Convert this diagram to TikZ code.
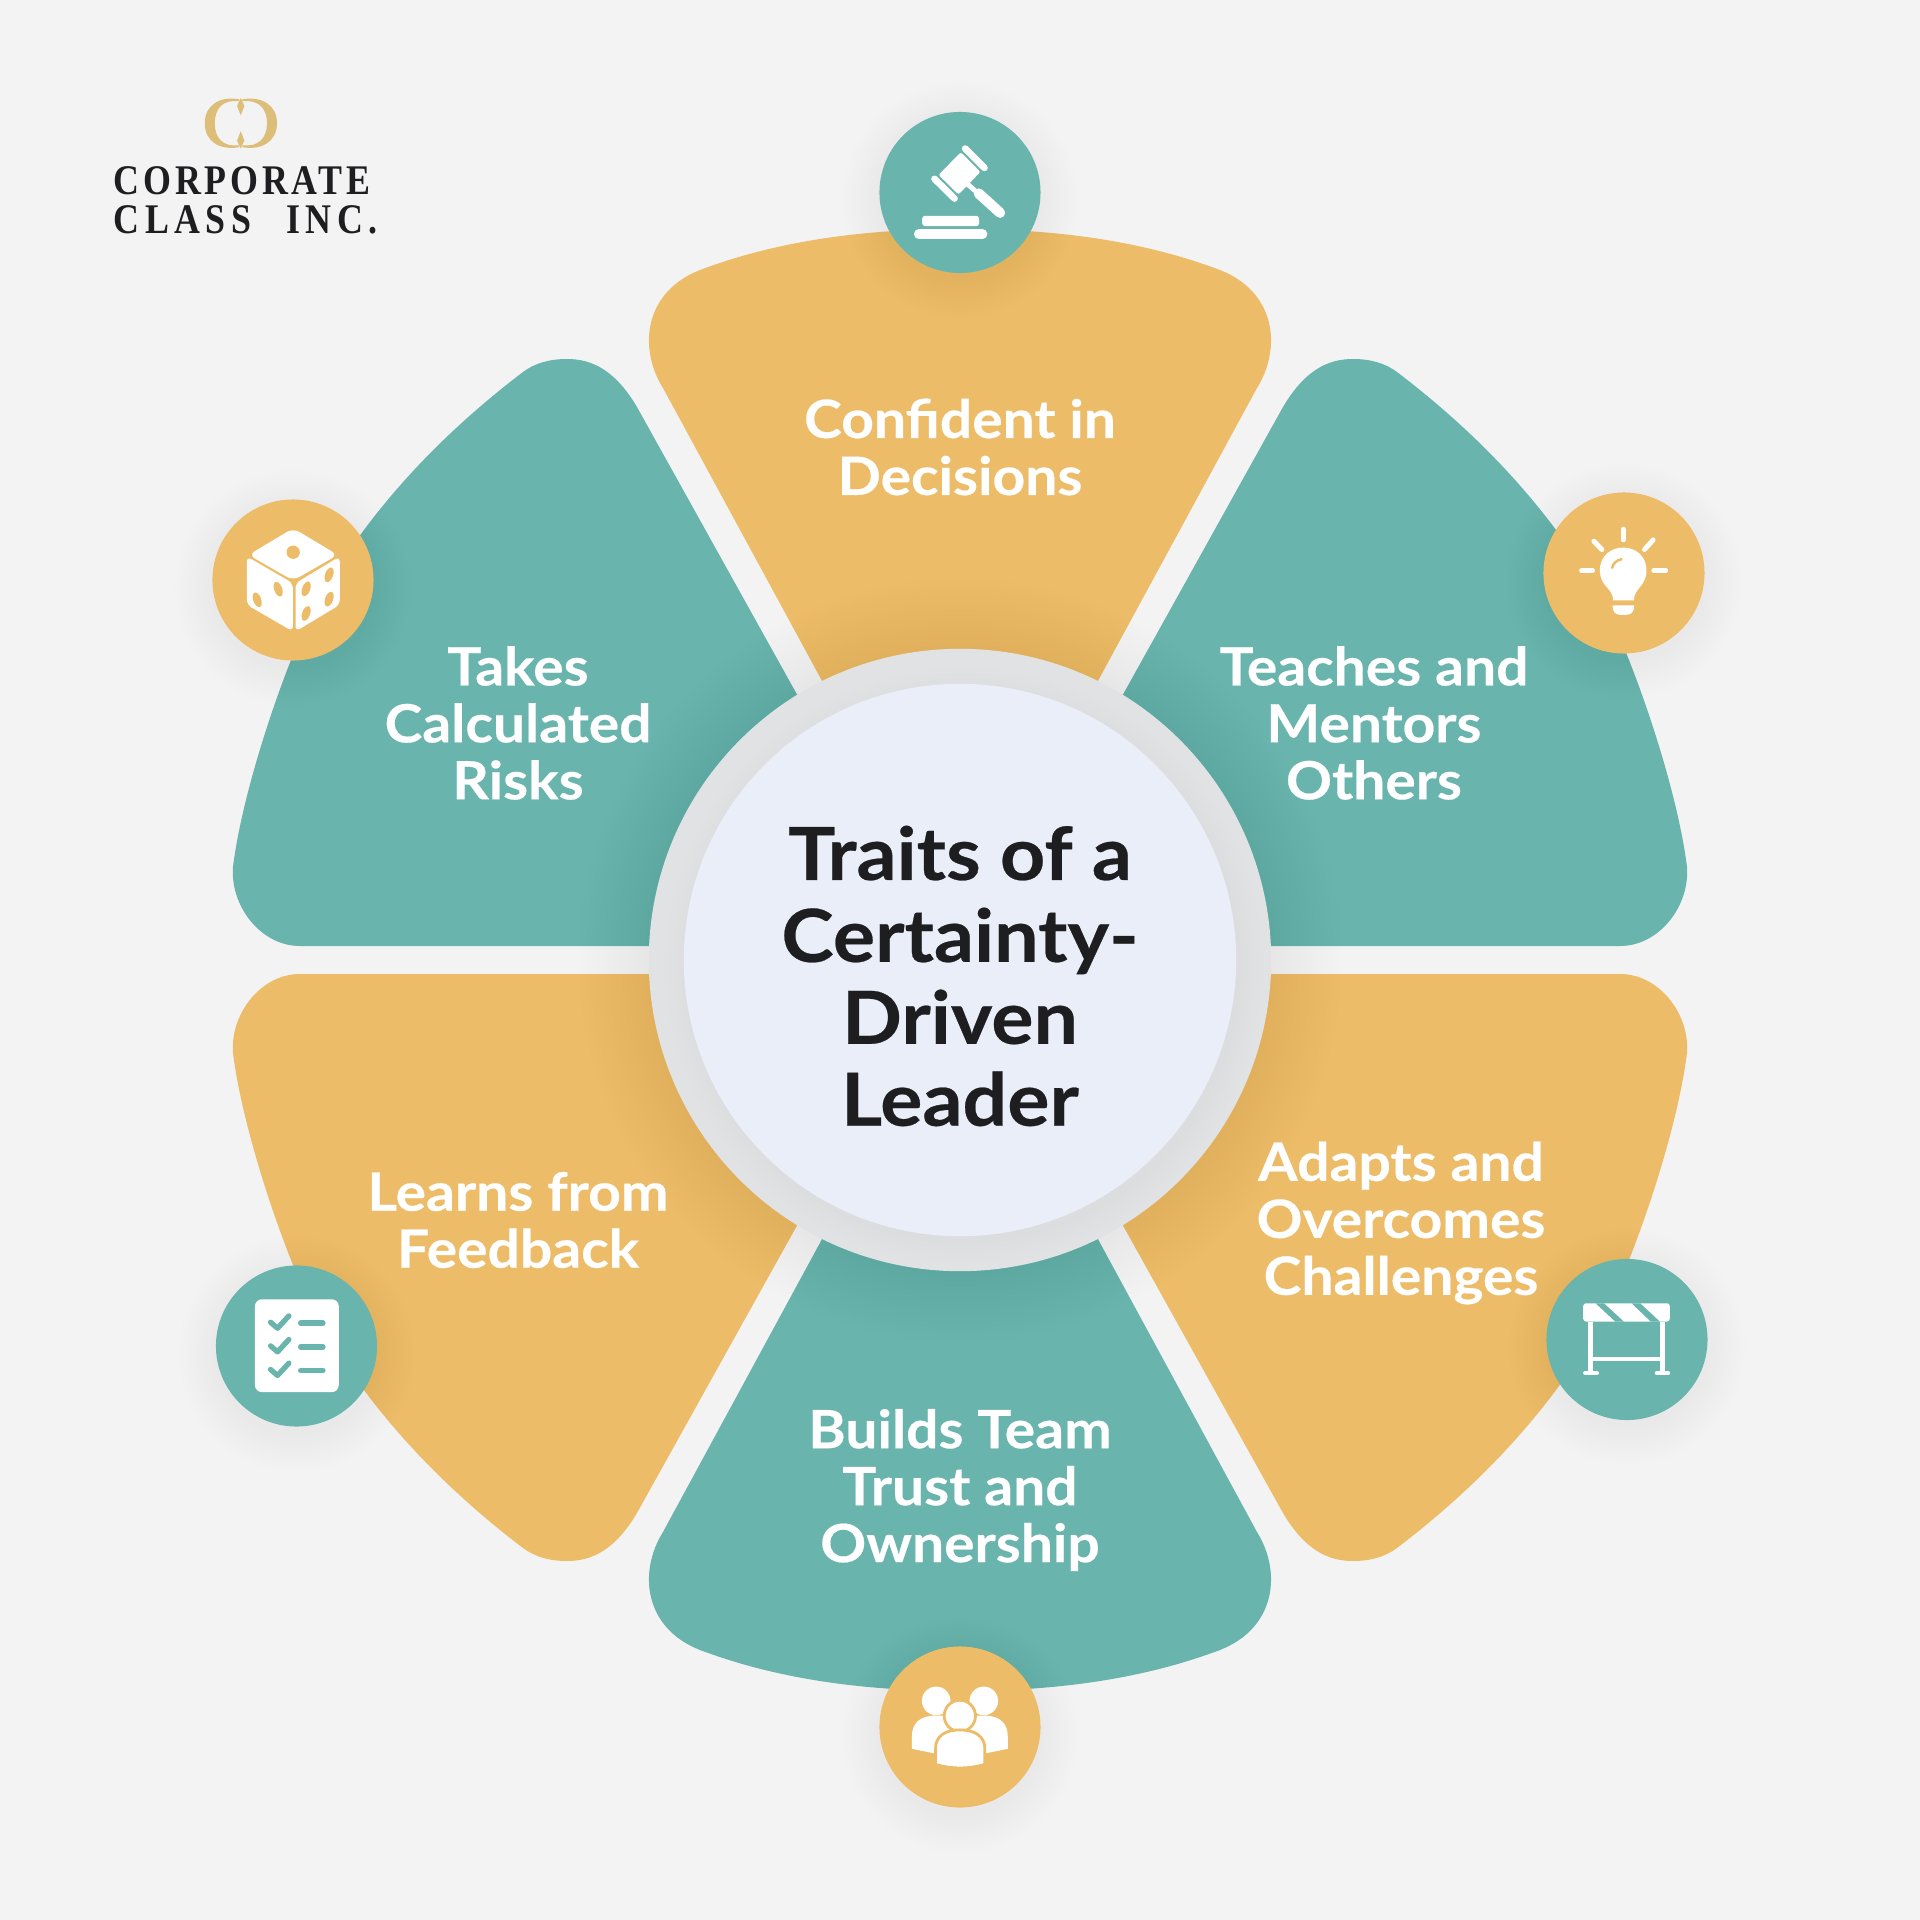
\documentclass[tikz,border=0pt]{standalone}
\usepackage{fontspec}
\setsansfont{Lato}[BoldFeatures={FakeBold=0.35,FakeStretch=1.08}]
\newfontfamily\logofont{Liberation Serif}[LetterSpace=9,BoldFeatures={FakeStretch=0.85}]
\newfontfamily\logowidefont{Liberation Serif}[LetterSpace=13,BoldFeatures={FakeStretch=0.85}]
\usetikzlibrary{positioning,shapes.geometric}
\definecolor{bgcol}{HTML}{F3F3F3}
\definecolor{tealcol}{HTML}{69B4AC}
\definecolor{yelcol}{HTML}{EDBC69}
\definecolor{goldcol}{HTML}{DCBE78}
\definecolor{ringcol}{HTML}{E1E2E4}
\definecolor{hubcol}{HTML}{EAEEF8}
\definecolor{inkcol}{HTML}{1E1E21}
\newcommand{\softshadow}[2]{\foreach \r in {82,86,...,118}{\fill[black,opacity=.005] (#1,#2) circle (\r);}}
\newcommand{\toppetal}{(0,25) -- (-297,572) .. controls (-322,612) and (-316,668) .. (-260,690) .. controls (-175,722) and (-85,731) .. (0,731) .. controls (85,731) and (175,722) .. (260,690) .. controls (316,668) and (322,612) .. (297,572) -- cycle}
\newcommand{\sidepetal}{(23,14) -- (323,553) .. controls (345,590) and (368,601) .. (393,601) .. controls (410,601) and (425,597) .. (437,588) .. controls (500,540) and (550,490) .. (590,438) .. controls (625,392) and (650,350) .. (667,305) .. controls (695,235) and (720,150) .. (727,93) .. controls (730,55) and (700,14) .. (660,14) -- cycle}
\tikzset{
  iconbg/.style={circle,minimum size=1.61cm,inner sep=0pt},
  traitlabel/.style={text=white,font=\sffamily\bfseries\fontsize{15}{16.2}\selectfont,inner sep=0pt},
  hublabel/.style={text=inkcol,font=\sffamily\bfseries\fontsize{20.8}{23.3}\selectfont,inner sep=0pt},
  logolabel/.style={text=inkcol,font=\logofont\bfseries\fontsize{12}{12}\selectfont,inner sep=0pt,anchor=base west},
  logowide/.style={logolabel,font=\logowidefont\bfseries\fontsize{12}{12}\selectfont},
  zoomed/.style 2 args={shift={(#1,#2)},x=.003333cm,y=-.003333cm},
  ico/.style={white,line cap=round}
}
\begin{document}
\begin{tikzpicture}[x=.01cm,y=.01cm,every text node part/.style={align=center}]
    \fill[bgcol] (-960,-960) rectangle (960,960);
    \useasboundingbox (-960,-960) rectangle (960,960);

    % petals
    \fill[yelcol] \toppetal;
    \fill[tealcol,yscale=-1] \toppetal;
    \fill[tealcol] \sidepetal;
    \fill[tealcol,xscale=-1] \sidepetal;
    \fill[yelcol,yscale=-1] \sidepetal;
    \fill[yelcol,scale=-1] \sidepetal;

    % shadow and hub
    \foreach \r in {315,321,...,385}{\fill[black,opacity=.005] (0,0) circle (\r);}
    \node[circle,fill=ringcol,minimum size=6.22cm,inner sep=0pt] (ring) at (0,0) {};
    \foreach \r in {278,283,...,300}{\fill[black,opacity=.004] (4,-6) circle (\r);}
    \node[circle,fill=hubcol,minimum size=5.52cm,inner sep=0pt] (hub) at (0,0) {};
    \node[hublabel] (title) at (0,-16) {Traits of a \\ Certainty- \\ Driven \\ Leader};

    \node[traitlabel] (confident) at (0,513) {Confident in \\ Decisions};
    \node[traitlabel] (teaches) at (414,237) {Teaches and \\ Mentors \\ Others};
    \node[traitlabel] (adapts) at (441,-263) {Adapts and \\ Overcomes \\ Challenges};
    \node[traitlabel] (builds) at (0,-530) {Builds Team \\ Trust and \\ Ownership};
    \node[traitlabel] (learns) at (-442,-260) {Learns from \\ Feedback};
    \node[traitlabel] (takes) at (-442,237) {Takes \\ Calculated \\ Risks};

    % icon discs
    \softshadow{0}{760}
    \softshadow{664}{379}
    \softshadow{667}{-387}
    \softshadow{0}{-775}
    \softshadow{-663.5}{-394}
    \softshadow{-667}{372}
    \node[iconbg,fill=tealcol] (gavelbg) at (0,767.5) {};
    \node[iconbg,fill=yelcol] (bulbbg) at (664,387) {};
    \node[iconbg,fill=tealcol] (barrierbg) at (667,-379.5) {};
    \node[iconbg,fill=yelcol] (peoplebg) at (0,-767) {};
    \node[iconbg,fill=tealcol] (listbg) at (-663.5,-386) {};
    \node[iconbg,fill=yelcol] (dicebg) at (-667,380) {};

    % gavel
    \begin{scope}[zoomed={-100}{860}]
      \draw[ico,line width=1.9pt] (316,146) -- (374,204);
      \draw[ico,line width=1.9pt] (224,237) -- (284,296);
      \fill[white,rounded corners=.6pt] (303,157) -- (362,216) -- (296,284) -- (236,225) -- cycle;
      \draw[ico,line width=1.4pt] (320,250) -- (345,272);
      \draw[ico,line width=2.9pt] (357,281) -- (421,339);
      \fill[white,rounded corners=.8pt] (187,379) -- (187,348) -- (358,348) -- (358,379) -- cycle;
      \draw[ico,line width=2.8pt] (177,403) -- (368,403);
    \end{scope}

    % bulb
    \begin{scope}[zoomed={570}{480}]
      \foreach \a/\b/\c/\d in {280/148/280/180,155/272/188/272,372/272/408/272,192/184/216/209,370/180/344/209}{
        \draw[ico,line width=1.4pt] (\a,\b) -- (\c,\d);
      }
      \fill[white] (250,362) .. controls (250,325) and (210,320) .. (210,272) .. controls (210,180) and (350,180) .. (350,272) .. controls (350,320) and (312,325) .. (312,362) -- cycle;
      \fill[white] (248,377) -- (313,377) .. controls (313,395) and (305,405) .. (290,405) -- (270,405) .. controls (256,405) and (248,395) .. (248,377) -- cycle;
      \draw[yelcol,line width=.7pt,line cap=round] (247,264) .. controls (250,250) and (260,241) .. (275,238);
    \end{scope}

    % barrier
    \begin{scope}[zoomed={570}{-290}]
      \fill[white,rounded corners=.8pt] (160,215) -- (160,160) -- (420,160) -- (420,215) -- cycle;
      \fill[tealcol] (197,160) -- (222,160) -- (282,215) -- (256,215) -- cycle;
      \fill[tealcol] (305,160) -- (331,160) -- (390,215) -- (363,215) -- cycle;
      \draw[white,line width=1.4pt] (183,215) -- (183,368);
      \draw[white,line width=1.4pt] (398,215) -- (398,368);
      \draw[white,line width=1.3pt] (183,328) -- (398,328);
      \draw[ico,line width=1.2pt] (166,370) -- (201,370);
      \draw[ico,line width=1.2pt] (381,370) -- (415,370);
    \end{scope}

    % people
    \begin{scope}[zoomed={-95}{-680}]
      \fill[white] (214,183) circle (43);
      \fill[white] (357,183) circle (43);
      \fill[white] (141,327) -- (141,290) .. controls (141,250) and (165,228) .. (210,227) -- (360,227) .. controls (405,228) and (429,250) .. (429,290) -- (429,327) -- (340,345) -- (230,345) -- cycle;
      \fill[white,draw=yelcol,line width=.8pt] (285,228) circle (47);
      \fill[white,draw=yelcol,line width=.8pt] (212,374) -- (212,325) .. controls (212,290) and (240,270) .. (285,270) .. controls (330,270) and (360,290) .. (360,325) -- (360,374) .. controls (310,388) and (262,388) .. (212,374) -- cycle;
    \end{scope}

    % checklist
    \begin{scope}[zoomed={-755}{-295}]
      \fill[white,rounded corners=2pt] (150,133) rectangle (402,412);
      \foreach \dy in {0,71,142}{
        \draw[tealcol,line width=1.5pt,line cap=round,line join=round] (197,202+\dy) -- (218,220+\dy) -- (252,183+\dy);
        \draw[tealcol,line width=1.6pt,line cap=round] (288,205+\dy) -- (354,205+\dy);
      }
    \end{scope}

    % dice
    \begin{scope}[zoomed={-760}{475}]
      \fill[white,rounded corners=2pt] (146,210) -- (280,130) -- (414,210) -- (280,287) -- cycle;
      \fill[white,rounded corners=1.5pt] (141,215) -- (279,295) -- (279,440) -- (141,360) -- cycle;
      \fill[white,rounded corners=1.5pt] (287,295) -- (420,215) -- (420,360) -- (287,440) -- cycle;
      \fill[yelcol] (280,202) circle (20);
      \foreach \px/\py/\tilt in {235/313/20,172/345/20,319/312/-20,388/270/-20,388/343/-20,319/386/-20}{
        \fill[yelcol,rotate around={\tilt:(\px,\py)}] (\px,\py) ellipse (12 and 23);
      }
    \end{scope}

    % logo
    \begin{scope}[zoomed={-880}{890}]
      \fill[goldcol] (478,88) .. controls (420,78) and (375,105) .. (375,160) .. controls (375,215) and (420,242) .. (478,232) -- (478,226) .. controls (430,232) and (405,205) .. (405,160) .. controls (405,115) and (430,88) .. (478,94) -- cycle;
      \fill[goldcol] (488,88) .. controls (546,78) and (592,105) .. (592,160) .. controls (592,215) and (546,242) .. (488,232) -- (488,226) .. controls (536,232) and (562,205) .. (562,160) .. controls (562,115) and (536,88) .. (488,94) -- cycle;
      \fill[goldcol] (483,84) -- (494,108) -- (483,136) -- (472,108) -- cycle;
      \fill[goldcol] (483,184) -- (494,212) -- (483,236) -- (472,212) -- cycle;
    \end{scope}
    \node[logolabel] (corporate) at (-847,765) {CORPORATE};
    \node[logowide] (classinc) at (-847,726) {CLASS\hspace{10pt}INC.};
\end{tikzpicture}
\end{document}
